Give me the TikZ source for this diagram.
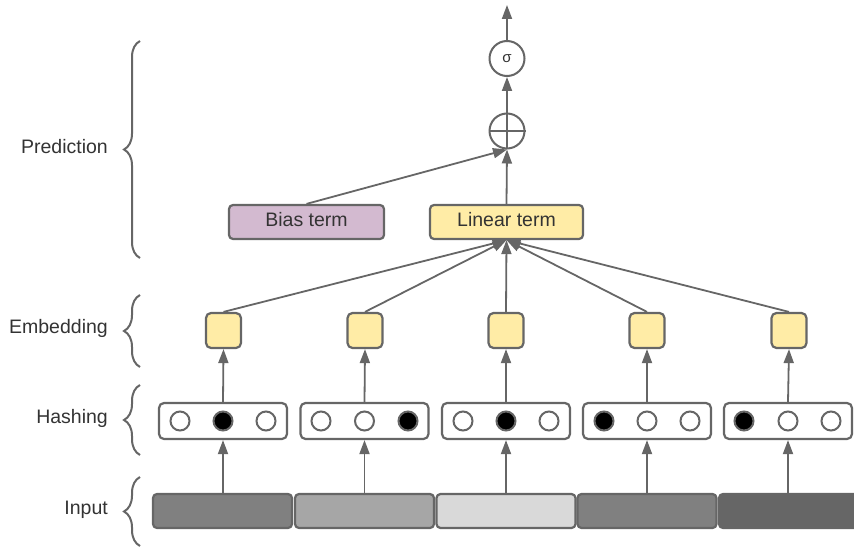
\documentclass[tikz,border=0pt]{standalone}
\usepackage{fontspec}
\setmainfont{Liberation Sans}
\usetikzlibrary{arrows.meta,positioning,decorations.pathreplacing,calc}
\definecolor{linegray}{HTML}{666666}
\definecolor{textgray}{HTML}{333333}
\definecolor{embyellow}{HTML}{FFECA6}
\definecolor{biaspurple}{HTML}{D3BAD0}
\tikzset{
  termbox/.style = {draw=linegray, line width=2.2pt, rounded corners=4pt, minimum height=34pt, inner sep=0pt, text height=14pt, text depth=6pt, font=\fontsize{19.5}{23}\selectfont, text=textgray},
  embbox/.style = {draw=linegray, line width=2.2pt, rounded corners=5pt, fill=embyellow, minimum size=35pt, inner sep=0pt},
  hashbox/.style = {draw=linegray, line width=2.2pt, rounded corners=5pt, fill=white, minimum width=128pt, minimum height=36pt},
  hashdot/.style = {circle, draw=linegray, line width=2pt, fill=white, minimum size=19pt, inner sep=0pt},
  hashhot/.style = {hashdot, fill=black},
  inputseg/.style = {draw=linegray, line width=2.2pt, rounded corners=4pt, minimum width=139pt, minimum height=34pt},
  opnode/.style = {circle, draw=linegray, line width=2pt, fill=white, minimum size=35pt, inner sep=0pt},
  flow/.style = {-{Triangle[length=14pt,width=10pt]}, draw=linegray, line width=1.8pt},
  layerbrace/.style = {decorate, decoration={brace, amplitude=16pt}, draw=linegray, line width=2pt},
  layerlabel/.style = {anchor=east, inner sep=0pt, font=\fontsize{19.5}{23}\selectfont, text=textgray},
}

\begin{document}
\begin{tikzpicture}[x=1pt, y=-1pt]
\useasboundingbox (0,0) rectangle (854,548);

% input segments
\node[inputseg, fill={rgb,255:red,128;green,128;blue,128}] (in1) at (222.5,511) {};
\node[inputseg, fill={rgb,255:red,166;green,166;blue,166}] (in2) at (364.5,511) {};
\node[inputseg, fill={rgb,255:red,217;green,217;blue,217}] (in3) at (506,511) {};
\node[inputseg, fill={rgb,255:red,128;green,128;blue,128}] (in4) at (647,511) {};
\node[inputseg, fill={rgb,255:red,102;green,102;blue,102}, minimum width=142pt] (in5) at (790,511) {};

% hashing buckets
\node[hashbox] (hash1) at (223,421) {};
\node[hashdot] at (180,421) {};
\node[hashhot] at (223,421) {};
\node[hashdot] at (266,421) {};

\node[hashbox] (hash2) at (364.5,421) {};
\node[hashdot] at (321,421) {};
\node[hashdot] at (364.5,421) {};
\node[hashhot] at (408,421) {};

\node[hashbox] (hash3) at (506,421) {};
\node[hashdot] at (463,421) {};
\node[hashhot] at (506,421) {};
\node[hashdot] at (549,421) {};

\node[hashbox] (hash4) at (647,421) {};
\node[hashhot] at (604,421) {};
\node[hashdot] at (647,421) {};
\node[hashdot] at (690,421) {};

\node[hashbox] (hash5) at (788,421) {};
\node[hashhot] at (744,421) {};
\node[hashdot] at (788,421) {};
\node[hashdot] at (831,421) {};

% embeddings
\node[embbox] (emb1) at (223.5,330.5) {};
\node[embbox] (emb2) at (365,330.5) {};
\node[embbox] (emb3) at (506,330.5) {};
\node[embbox] (emb4) at (647,330.5) {};
\node[embbox] (emb5) at (789,330.5) {};

% prediction
\node[termbox, fill=biaspurple, minimum width=155pt] (bias) at (306.5,222) {Bias term};
\node[termbox, fill=embyellow, minimum width=153pt] (linear) at (506.5,222) {Linear term};
\node[opnode] (plus) at (507,131) {};
\draw[linegray, line width=2pt] (plus.north) -- (plus.south) (plus.west) -- (plus.east);
\node[opnode, font=\fontsize{15}{17}\selectfont, text=textgray] (sigma) at (507,58.5) {σ};
\coordinate (out) at (507,5);

% connectors
\draw[flow] (hash1 |- in1.north) -- (hash1.south);
\draw[flow] (hash2 |- in2.north) -- (hash2.south);
\draw[flow] (hash3 |- in3.north) -- (hash3.south);
\draw[flow] (hash4 |- in4.north) -- (hash4.south);
\draw[flow] (hash5 |- in5.north) -- (hash5.south);
\draw[flow] (hash1.north) -- (emb1.south);
\draw[flow] (hash2.north) -- (emb2.south);
\draw[flow] (hash3.north) -- (emb3.south);
\draw[flow] (hash4.north) -- (emb4.south);
\draw[flow] (hash5.north) -- (emb5.south);
\draw[flow] (emb1.north) -- (linear.south);
\draw[flow] (emb2.north) -- (linear.south);
\draw[flow] (emb3.north) -- (linear.south);
\draw[flow] (emb4.north) -- (linear.south);
\draw[flow] (emb5.north) -- (linear.south);
\draw[flow] (bias.north) -- (plus.south);
\draw[flow] (linear.north) -- (plus.south);
\draw[flow] (plus.north) -- (sigma.south);
\draw[flow] (sigma.north) -- (out);

% layer braces and labels
\draw[layerbrace] (140,258) -- (140,41);
\node[layerlabel] (lblpred) at (108,147) {Prediction};
\draw[layerbrace] (140,367) -- (140,295);
\node[layerlabel] (lblemb) at (108,328) {Embedding};
\draw[layerbrace] (140,455) -- (140,385);
\node[layerlabel] (lblhash) at (108,418) {Hashing};
\draw[layerbrace] (140,546) -- (140,477);
\node[layerlabel] (lblin) at (108,510) {Input};

\end{tikzpicture}
\end{document}
